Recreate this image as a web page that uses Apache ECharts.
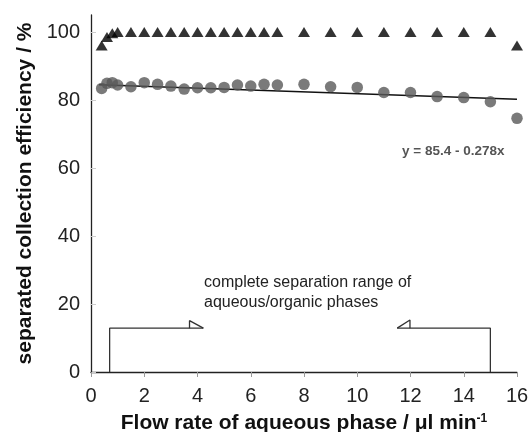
<!DOCTYPE html>
<html>
<head>
<meta charset="utf-8">
<script src="https://cdn.jsdelivr.net/npm/echarts@6/dist/echarts.min.js"></script>
<style>html,body{margin:0;padding:0;background:#fff}#c{width:531px;height:432px}</style>
</head>
<body>
<div id="c"></div>
<script>
const flowRates = [0.4, 0.6, 0.8, 1.0, 1.5, 2, 2.5, 3, 3.5, 4, 4.5, 5, 5.5, 6, 6.5, 7, 8, 9, 10, 11, 12, 13, 14, 15, 16];
const phaseSeparation = [96.0, 98.5, 99.6, 100, 100, 100, 100, 100, 100, 100, 100, 100, 100, 100, 100, 100, 100, 100, 100, 100, 100, 100, 100, 100, 96.0];
const collectionEff = [83.4, 84.9, 85.1, 84.4, 83.9, 85.1, 84.6, 84.1, 83.2, 83.6, 83.6, 83.7, 84.4, 84.1, 84.6, 84.4, 84.6, 83.9, 83.7, 82.2, 82.2, 81.0, 80.7, 79.5, 74.6];
const fitLine = [[0.3, 84.5], [16, 80.2]];
const bracketLeft = [[4.22, 12.9], [0.7, 12.9], [0.7, 0]];
const bracketLeftHead = [[3.7, 12.9], [3.7, 15.1], [4.22, 12.9]];
const bracketRight = [[11.5, 12.9], [15.0, 12.9], [15.0, 0]];
const bracketRightHead = [[11.98, 12.9], [11.98, 15.3], [11.5, 12.9]];
const xTicks = [0, 2, 4, 6, 8, 10, 12, 14, 16];
const yTicks = [0, 20, 40, 60, 80, 100];

const FONT = 'Liberation Sans, Arial, sans-serif';
const chart = echarts.init(document.getElementById('c'));
const bracketStyle = {color: '#333', width: 1.3};
function pathSeries(data) {
  return {type: 'line', data: data, symbol: 'none', lineStyle: bracketStyle, silent: true, z: 1, animation: false};
}
chart.setOption({
  animation: false,
  grid: {left: 91, right: 14, top: 15, bottom: 60, containLabel: false, outerBoundsMode: 'none'},
  xAxis: {
    type: 'value', min: 0, max: 16, interval: 2,
    axisLine: {show: true, lineStyle: {color: '#222', width: 1.3}},
    axisTick: {show: true, inside: false, length: 5, lineStyle: {color: '#999'}, customValues: xTicks},
    axisLabel: {fontSize: 20, color: '#222', fontFamily: FONT, margin: 14, customValues: xTicks},
    splitLine: {show: false},
    name: 'Flow rate of aqueous phase / \u03bcl min{sup|-1}',
    nameLocation: 'middle', nameGap: 41,
    nameTextStyle: {fontSize: 21, fontWeight: 'bold', color: '#111', fontFamily: FONT,
      rich: {sup: {fontSize: 12, fontWeight: 'bold', verticalAlign: 'top', color: '#111', fontFamily: FONT, padding: [0,0,9,0]}}}
  },
  yAxis: {
    type: 'value', min: 0, max: 105,
    axisLine: {show: true, lineStyle: {color: '#222', width: 1.3}},
    axisTick: {show: true, inside: true, length: 5, lineStyle: {color: '#ccc'}, customValues: yTicks},
    axisLabel: {fontSize: 20, color: '#222', fontFamily: FONT, margin: 11, customValues: yTicks},
    splitLine: {show: false},
    name: 'separated collection efficiency / %',
    nameLocation: 'middle', nameGap: 55,
    nameTextStyle: {fontSize: 21, fontWeight: 'bold', color: '#111', fontFamily: FONT}
  },
  series: [
    pathSeries(bracketLeft), pathSeries(bracketLeftHead),
    pathSeries(bracketRight), pathSeries(bracketRightHead),
    {type: 'line', data: fitLine, symbol: 'none', lineStyle: {color: '#111', width: 1.5}, z: 2},
    {type: 'scatter', data: flowRates.map((x, i) => [x, collectionEff[i]]), symbol: 'circle', symbolSize: 11.5,
      itemStyle: {color: '#595959'}, z: 3},
    {type: 'scatter', data: flowRates.map((x, i) => [x, phaseSeparation[i]]), symbol: 'triangle', symbolSize: [12, 10],
      itemStyle: {color: '#000'}, z: 4}
  ],
  graphic: [
    {type: 'text', left: 402, top: 144, style: {text: 'y = 85.4 - 0.278x', font: 'bold 13.5px ' + FONT, fill: '#555'}},
    {type: 'text', left: 204, top: 273, style: {text: 'complete separation range of\naqueous/organic phases', font: '16px ' + FONT, fill: '#222', lineHeight: 19.6}}
  ]
});
</script>
</body>
</html>
